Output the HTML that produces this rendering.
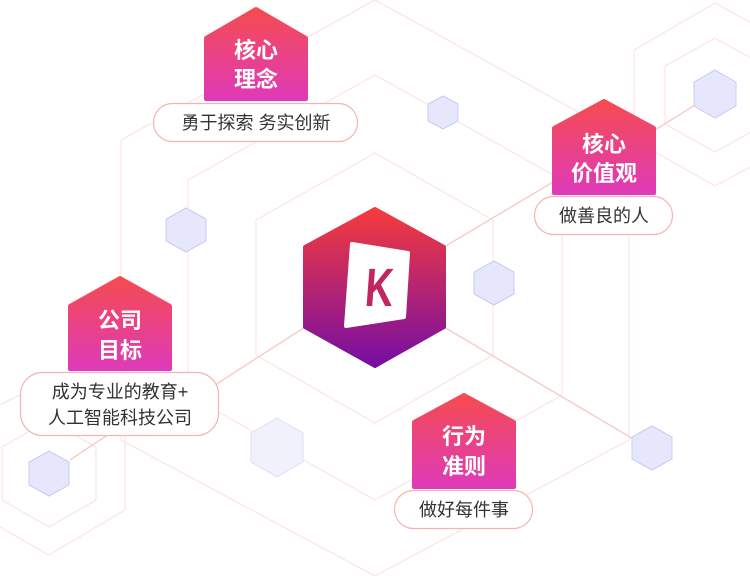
<!DOCTYPE html>
<html><head><meta charset="utf-8"><style>
html,body{margin:0;padding:0;background:#fff;}
svg{display:block;}
text{font-family:"Liberation Sans","Noto Sans CJK SC",sans-serif;}
</style></head><body>
<svg width="750" height="576" viewBox="0 0 750 576" xmlns="http://www.w3.org/2000/svg">
<defs>
<linearGradient id="cg" x1="0" y1="0" x2="0" y2="1"><stop offset="0" stop-color="#f53b3d"/><stop offset="1" stop-color="#760ea2"/></linearGradient>
<linearGradient id="lg" x1="0" y1="0" x2="0" y2="1"><stop offset="0" stop-color="#f54b50"/><stop offset="1" stop-color="#df3ab8"/></linearGradient>
</defs>
<g fill="none" stroke="#fde3e3" stroke-width="1.2" stroke-linejoin="round">
<polygon points="375,153 493,220 493,355 375,423 256,355 256,220"/>
<polygon points="375,75 562,180 562,395 375,500 188,395 188,180"/>
<polygon points="375,0 629,140 629,440 375,576 121,440 121,140"/>
<polygon points="715,38 765,66 765,124 715,152 665,124 665,66"/>
<polygon points="715,3 800,50 800,140 715,186 634,140 634,50"/>
<polygon points="49,420 96,447 96,500 49,527 2,500 2,447"/>
<polygon points="49,380 125,420 125,510 49,555 -30,510 -30,420"/>
</g>
<g stroke="#f9cccc" stroke-width="1.5">
<line x1="444" y1="247" x2="553" y2="182"/>
<line x1="444" y1="327" x2="635" y2="440"/>
<line x1="305" y1="327" x2="215" y2="385"/>
<line x1="655" y1="130" x2="695" y2="105"/>
<line x1="70" y1="460" x2="115" y2="430"/>
</g>
<g fill="#e6e6fc" stroke="#c9c9f6" stroke-width="1">
<polygon points="443,96 458,104 458,121 443,129 428,121 428,104"/>
<polygon points="186,208 206,219 206,241 186,252 166,241 166,219"/>
<polygon points="494,261 514,272 514,294 494,305 474,294 474,272"/>
<polygon points="715,70 736,82 736,106 715,118 694,106 694,82"/>
<polygon points="652,426 672,437 672,459 652,470 632,459 632,437"/>
<polygon points="49,451 69,462 69,485 49,496 29,485 29,462"/>
<polygon points="277,418 303,433 303,462 277,477 251,462 251,433" fill="#f1f1fc" stroke="#dedef8"/>
</g>
<polygon points="375,209 444,247 444,327 375,366 305,327 305,247" fill="url(#cg)" stroke="url(#cg)" stroke-width="4" stroke-linejoin="round"/>
<polygon points="352,244 408,253 404,317 346,326" fill="#fff" stroke="#fff" stroke-width="4" stroke-linejoin="round"/>
<text font-size="54" font-weight="bold" fill="#c22660" text-anchor="middle" transform="translate(378,306) scale(0.72,1) skewX(-6)">K</text>

<g fill="url(#lg)" stroke="url(#lg)" stroke-width="4" stroke-linejoin="round">
<polygon points="256,9 306,38 306,99 206,99 206,38"/>
<polygon points="604,101 654,128 654,193 554,193 554,128"/>
<polygon points="120,278 170,306 170,369 70,369 70,306"/>
<polygon points="464,395 514,422 514,487 414,487 414,422"/>
</g>
<g fill="#fff" font-size="22" font-weight="bold" text-anchor="middle">
<text x="256" y="58">核心</text><text x="256" y="87">理念</text>
<text x="604" y="152">核心</text><text x="604" y="181">价值观</text>
<text x="120" y="328">公司</text><text x="120" y="358">目标</text>
<text x="464" y="444">行为</text><text x="464" y="474">准则</text>
</g>
<g fill="#fff" stroke="#f7b3b3" stroke-width="1.2">
<rect x="153.5" y="103.5" width="204" height="38" rx="19"/>
<rect x="534.5" y="196.5" width="138" height="38" rx="19"/>
<rect x="20.5" y="372.5" width="198" height="63" rx="22"/>
<rect x="394.5" y="490.5" width="138" height="38" rx="19"/>
</g>
<g fill="#333" font-size="18" text-anchor="middle">
<text x="256" y="129">勇于探索 务实创新</text>
<text x="604" y="222">做善良的人</text>
<text x="120" y="398">成为专业的教育+</text>
<text x="120" y="424">人工智能科技公司</text>
<text x="464" y="516">做好每件事</text>
</g>
</svg>
</body></html>
